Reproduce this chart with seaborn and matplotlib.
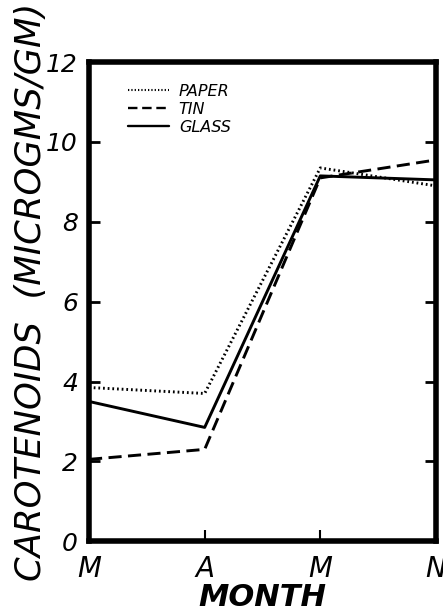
import matplotlib
matplotlib.use("Agg")
import matplotlib.pyplot as plt
from matplotlib.lines import Line2D
import seaborn as sns
import pandas as pd

months = ["M", "A", "M", "N"]
paper = [3.85, 3.7, 9.35, 8.9]
tin = [2.05, 2.3, 9.1, 9.55]
glass = [3.5, 2.85, 9.15, 9.05]
series_names = ["PAPER", "TIN", "GLASS"]
y_ticks = [0, 2, 4, 6, 8, 10, 12]

sns.set_theme(style="white")
plt.rcParams["font.family"] = ["DejaVu Sans"]
plt.rcParams["text.color"] = "black"
plt.rcParams["xtick.color"] = "black"
plt.rcParams["ytick.color"] = "black"
plt.rcParams["axes.labelcolor"] = "black"

rows = []
for name, vals in zip(series_names, [paper, tin, glass]):
    for i, v in enumerate(vals):
        rows.append({"pos": i, "value": v, "container": name})
df = pd.DataFrame(rows)

fig = plt.figure(figsize=(4.43, 6.15), dpi=100)
ax = fig.add_axes([0.201, 0.120, 0.783, 0.779])

sns.lineplot(
    data=df, x="pos", y="value", style="container",
    style_order=series_names,
    dashes={"PAPER": (0.6, 1.0), "TIN": (4.5, 2.2), "GLASS": ""},
    color="black", linewidth=2.1, ax=ax, legend=False,
)

ax.set_xlim(0, 3)
ax.set_ylim(0, 12)
ax.set_xticks(range(len(months)))
ax.set_xticklabels(months, fontsize=20, style="italic")
ax.set_yticks(y_ticks)
ax.set_yticklabels([str(t) for t in y_ticks], fontsize=18, style="italic")
ax.tick_params(axis="y", direction="in", length=8, width=2, left=True, right=True, pad=8)
ax.tick_params(axis="x", direction="in", length=8, width=1.5, bottom=True, pad=10)
for sp in ax.spines.values():
    sp.set_linewidth(4)
    sp.set_color("black")

ax.set_xlabel("MONTH", fontsize=22, style="italic", fontweight="bold", labelpad=0)
ax.set_ylabel("CAROTENOIDS  (MICROGMS/GM)", fontsize=25.5, style="italic")
ax.yaxis.set_label_coords(-0.118, 0.52)

# legend drawn with sample line segments
handles = [
    Line2D([], [], color="black", linewidth=1.5, linestyle=(0, (0.6, 1.0))),
    Line2D([], [], color="black", linewidth=1.7, linestyle=(0, (4, 2))),
    Line2D([], [], color="black", linewidth=1.7, linestyle="-"),
]
leg = ax.legend(handles, series_names, loc="upper left", frameon=False,
                bbox_to_anchor=(0.07, 0.985), handlelength=2.6, handletextpad=0.6,
                labelspacing=0.2, prop={"size": 11.5, "style": "italic"})

fig.savefig("out.png", dpi=100)
